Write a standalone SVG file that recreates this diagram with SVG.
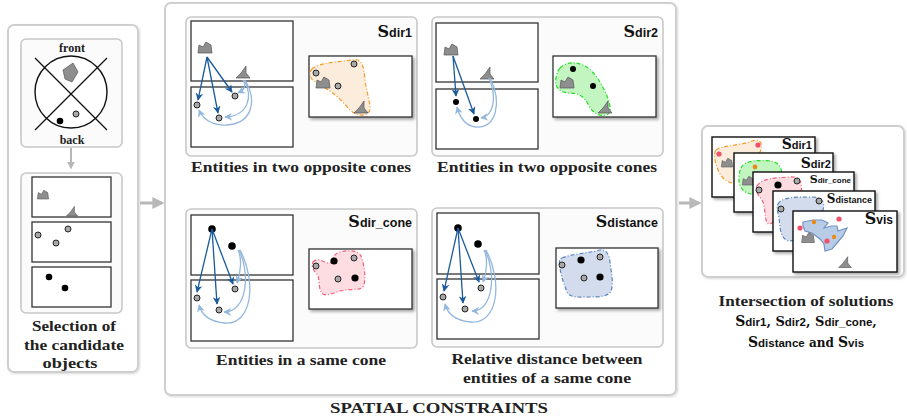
<svg xmlns="http://www.w3.org/2000/svg" width="907" height="418" viewBox="0 0 907 418">
<style>
.pnl{fill:#fff;stroke:#cfcfcf;stroke-width:2}
.sub{fill:#fbfbfb;stroke:#c8c8c8;stroke-width:1.6}
.frame{fill:#fff;stroke:#333;stroke-width:1.3}
.card{fill:#fff;stroke:#111;stroke-width:1.4}
.gdot{fill:#a8a8a8;stroke:#222;stroke-width:1}
.bdot{fill:#000}
.shp{fill:#8e8e8e;stroke:#555;stroke-width:0.7}
.lbl{font-family:"Liberation Serif",serif;font-weight:bold;font-size:14.5px;fill:#222}
.sm{font-family:"Liberation Serif",serif;font-weight:bold;font-size:12px;fill:#222}
.ser{font-family:"DejaVu Serif","Liberation Serif",serif;font-weight:bold;fill:#111}
.sns{font-family:"Liberation Sans",sans-serif;font-weight:bold;fill:#111}
.dk{stroke:#1b5b9b;stroke-width:1.3;fill:none;marker-end:url(#ad)}
.lt{stroke:#93b7de;stroke-width:1.3;fill:none;marker-end:url(#al)}
.gar{stroke:#b8b8b8;stroke-width:3;fill:none;marker-end:url(#ag)}
.org{fill:#fcecdc;stroke:#f39a2a;stroke-width:1.2;stroke-dasharray:4 2 1 2}
.grn{fill:#c2f5c0;stroke:#22dd22;stroke-width:1.2;stroke-dasharray:4 2 1 2}
.pnk{fill:#fddde2;stroke:#f0607a;stroke-width:1.2;stroke-dasharray:4 2 1 2}
.blu{fill:#d2dced;stroke:#5a84bd;stroke-width:1.2;stroke-dasharray:4 2 1 2}
.vis{fill:#b9cce6;stroke:#6f93c5;stroke-width:1.2}
.pdot{fill:#f0506a}
.odot{fill:#e88a1a}
</style>
<defs>
<marker id="ad" viewBox="0 0 10 10" refX="9" refY="5" markerWidth="6" markerHeight="6" orient="auto"><path d="M0,0 L10,5 L0,10 L3,5 Z" fill="#1b5b9b"/></marker>
<marker id="al" viewBox="0 0 10 10" refX="9" refY="5" markerWidth="6" markerHeight="6" orient="auto"><path d="M0,0 L10,5 L0,10 L3,5 Z" fill="#93b7de"/></marker>
<marker id="ag" viewBox="0 0 10 10" refX="8" refY="5" markerWidth="4" markerHeight="4" orient="auto"><path d="M0,0 L10,5 L0,10 Z" fill="#b8b8b8"/></marker>
<filter id="sh" x="-10%" y="-10%" width="130%" height="140%"><feDropShadow dx="2" dy="2" stdDeviation="1.5" flood-color="#000" flood-opacity="0.35"/></filter>
<filter id="psh" x="-5%" y="-5%" width="110%" height="110%"><feDropShadow dx="1" dy="1" stdDeviation="1.2" flood-color="#000" flood-opacity="0.15"/></filter>
<path id="crown" d="M-7,5 L-6,-3 L-2,-1 L1,-6 L6,-3 L7,5 Z"/>
<path id="boot" d="M-7,5 L-2,0 L3,-7 L3,0 L7,5 Z"/>
</defs>

<!-- Left panel -->
<g id="selection">
<rect class="pnl" x="8" y="25" width="130" height="347" rx="6" filter="url(#psh)"/>
<rect class="sub" x="21" y="39" width="101" height="108" rx="5"/>
<text class="sm" x="72" y="52" text-anchor="middle">front</text>
<circle cx="71" cy="92" r="36" fill="#fff" stroke="#111" stroke-width="1.4"/>
<line x1="35" y1="58" x2="107" y2="130" stroke="#111" stroke-width="1.2"/>
<line x1="107" y1="58" x2="35" y2="130" stroke="#111" stroke-width="1.2"/>
<polygon class="shp" points="63,70 73,63 78,72 72,82 65,79"/>
<circle class="bdot" cx="60" cy="121" r="3.3"/>
<circle class="gdot" cx="76" cy="114" r="3"/>
<text class="sm" x="72" y="144" text-anchor="middle">back</text>
<rect class="sub" x="21" y="173" width="101" height="140" rx="5"/>
<rect class="frame" x="32" y="177" width="79" height="40"/>
<use href="#crown" class="shp" transform="translate(43,195) scale(0.8)"/>
<use href="#boot" class="shp" transform="translate(72,212) scale(0.8)"/>
<rect class="frame" x="32" y="222" width="79" height="40"/>
<circle class="gdot" cx="38" cy="235" r="3"/>
<circle class="gdot" cx="56" cy="243" r="3"/>
<circle class="gdot" cx="68" cy="229" r="3"/>
<rect class="frame" x="32" y="267" width="79" height="40"/>
<circle class="bdot" cx="49" cy="277" r="3.3"/>
<circle class="bdot" cx="65" cy="288" r="3.3"/>
<text class="lbl" x="74" y="331" text-anchor="middle" textLength="84" lengthAdjust="spacingAndGlyphs">Selection of</text>
<text class="lbl" x="74" y="350" text-anchor="middle" textLength="100" lengthAdjust="spacingAndGlyphs">the candidate</text>
<text class="lbl" x="70" y="368" text-anchor="middle" textLength="55" lengthAdjust="spacingAndGlyphs">objects</text>
</g>

<!-- Middle panel -->
<g id="spatial">
<rect class="pnl" x="165" y="3" width="511" height="392" rx="6" filter="url(#psh)"/>
<text class="lbl" x="439" y="413" text-anchor="middle" textLength="218" lengthAdjust="spacingAndGlyphs">SPATIAL CONSTRAINTS</text>
</g>

<!-- Sdir1 -->
<g id="sdir1">
<rect class="sub" x="186" y="17" width="231" height="139" rx="5"/>
<text x="412" y="37" text-anchor="end"><tspan class="ser" font-size="16">S</tspan><tspan class="sns" font-size="12.5">dir1</tspan></text>
<rect class="frame" x="191" y="21" width="102" height="60"/>
<rect class="frame" x="191" y="87" width="102" height="60"/>
<use href="#crown" class="shp" transform="translate(205,48)"/>
<use href="#boot" class="shp" transform="translate(243,73)"/>
<circle class="gdot" cx="197" cy="105" r="3"/>
<circle class="gdot" cx="219" cy="118" r="3"/>
<circle class="gdot" cx="235" cy="96" r="3"/>
<rect class="frame" x="309" y="56" width="103" height="61" filter="url(#sh)"/>
<path class="org" d="M312,69 C320,62 340,62 352,60 C362,58 364,66 365,80 C367,95 372,106 369,112 C364,117 355,116 348,108 C340,98 330,90 318,84 C310,80 308,73 312,69 Z"/>
<circle class="gdot" cx="316" cy="73" r="3"/>
<use href="#crown" class="shp" transform="translate(323,83)"/>
<circle class="gdot" cx="338" cy="86" r="3"/>
<circle class="gdot" cx="354" cy="64" r="3"/>
<use href="#boot" class="shp" transform="translate(361,108)"/>
<text class="lbl" x="301" y="172" text-anchor="middle" textLength="220" lengthAdjust="spacingAndGlyphs">Entities in two opposite cones</text>
</g>

<!-- Sdir2 -->
<g id="sdir2">
<rect class="sub" x="432" y="17" width="231" height="139" rx="5"/>
<text x="658" y="37" text-anchor="end"><tspan class="ser" font-size="16">S</tspan><tspan class="sns" font-size="12.5">dir2</tspan></text>
<rect class="frame" x="436" y="23" width="102" height="59"/>
<rect class="frame" x="436" y="89" width="102" height="60"/>
<use href="#crown" class="shp" transform="translate(451,50)"/>
<use href="#boot" class="shp" transform="translate(487,74)"/>
<circle class="bdot" cx="456" cy="102" r="3"/>
<circle class="bdot" cx="476" cy="119" r="3"/>
<rect class="frame" x="553" y="56" width="103" height="61" filter="url(#sh)"/>
<path class="grn" d="M560,68 C566,62 576,61 585,66 C595,72 602,84 607,96 C611,106 612,114 606,115 C598,117 592,112 588,104 C584,96 578,93 570,93 C560,93 554,87 556,78 C557,73 558,70 560,68 Z"/>
<circle class="bdot" cx="573" cy="69" r="3"/>
<use href="#crown" class="shp" transform="translate(567,83)"/>
<circle class="bdot" cx="593" cy="86" r="3"/>
<use href="#boot" class="shp" transform="translate(605,108)"/>
<text class="lbl" x="547" y="172" text-anchor="middle" textLength="220" lengthAdjust="spacingAndGlyphs">Entities in two opposite cones</text>
</g>

<!-- Sdir_cone -->
<g id="sdircone">
<rect class="sub" x="186" y="209" width="231" height="139" rx="5"/>
<text x="412" y="227" text-anchor="end"><tspan class="ser" font-size="16">S</tspan><tspan class="sns" font-size="12.5">dir_cone</tspan></text>
<rect class="frame" x="191" y="215" width="102" height="60"/>
<rect class="frame" x="191" y="280" width="102" height="61"/>
<circle class="bdot" cx="212" cy="229" r="3.8"/>
<circle class="bdot" cx="232" cy="246" r="3.8"/>
<circle class="gdot" cx="197" cy="298" r="3"/>
<circle class="gdot" cx="219" cy="310" r="3"/>
<circle class="gdot" cx="235" cy="289" r="3"/>
<rect class="frame" x="309" y="249" width="103" height="60" filter="url(#sh)"/>
<path class="pnk" d="M313,262 C318,256 325,264 330,263 C333,262 332,254 340,252 C348,250 358,250 361,256 C364,264 366,275 364,285 C362,291 352,289 345,290 C336,291 328,297 323,294 C318,290 320,282 318,276 C316,272 310,268 313,262 Z"/>
<circle class="gdot" cx="316" cy="266" r="3"/>
<circle class="bdot" cx="334" cy="261" r="3.6"/>
<circle class="gdot" cx="354" cy="258" r="3"/>
<circle class="gdot" cx="338" cy="279" r="3"/>
<circle class="bdot" cx="355" cy="278" r="3.6"/>
<text class="lbl" x="301" y="365" text-anchor="middle" textLength="170" lengthAdjust="spacingAndGlyphs">Entities in a same cone</text>
</g>

<!-- Sdistance -->
<g id="sdistance">
<rect class="sub" x="432" y="208" width="231" height="139" rx="5"/>
<text x="658" y="227" text-anchor="end"><tspan class="ser" font-size="16">S</tspan><tspan class="sns" font-size="12.5">distance</tspan></text>
<rect class="frame" x="437" y="213" width="102" height="61"/>
<rect class="frame" x="437" y="279" width="102" height="60"/>
<circle class="bdot" cx="458" cy="228" r="3.8"/>
<circle class="bdot" cx="478" cy="244" r="3.8"/>
<circle class="gdot" cx="443" cy="297" r="3"/>
<circle class="gdot" cx="465" cy="309" r="3"/>
<circle class="gdot" cx="481" cy="288" r="3"/>
<rect class="frame" x="556" y="248" width="102" height="60" filter="url(#sh)"/>
<path class="blu" d="M562,258 C570,254 590,253 600,250 C606,249 609,254 610,262 C611,272 614,282 611,291 C608,297 598,297 588,297 C578,297 570,298 567,292 C564,284 561,276 560,268 C559,262 559,259 562,258 Z"/>
<circle class="gdot" cx="562" cy="265" r="3"/>
<circle class="bdot" cx="581" cy="260" r="3.6"/>
<circle class="gdot" cx="600" cy="257" r="3"/>
<circle class="gdot" cx="584" cy="278" r="3"/>
<circle class="bdot" cx="600" cy="277" r="3.6"/>
<text class="lbl" x="547" y="364" text-anchor="middle" textLength="191" lengthAdjust="spacingAndGlyphs">Relative distance between</text>
<text class="lbl" x="547" y="383" text-anchor="middle" textLength="168" lengthAdjust="spacingAndGlyphs">entities of a same cone</text>
</g>

<!-- Right panel -->
<g id="intersection">
<rect class="pnl" x="702" y="126" width="202" height="151" rx="6" filter="url(#psh)"/>
<rect class="card" x="712" y="137" width="103" height="60" filter="url(#sh)"/>
<path class="org" d="M716,150 C722,145 740,146 752,141 C760,138 764,144 760,152 C755,162 745,170 738,180 C732,187 722,180 718,170 C715,162 713,154 716,150 Z"/>
<circle class="pdot" cx="719" cy="154" r="2.6"/>
<circle class="pdot" cx="758" cy="145" r="2.6"/>
<use href="#crown" class="shp" transform="translate(727,163) scale(0.8)"/>
<text x="812" y="149" text-anchor="end"><tspan class="ser" font-size="14">S</tspan><tspan class="sns" font-size="11">dir1</tspan></text>
<rect class="card" x="734" y="153" width="99" height="59" filter="url(#sh)"/>
<path class="grn" d="M741,168 C745,160 758,160 770,161 C780,162 784,170 780,180 C775,190 762,194 752,194 C743,194 738,185 739,177 C739,173 740,170 741,168 Z"/>
<circle class="odot" cx="755" cy="167" r="2.4"/>
<use href="#crown" class="shp" transform="translate(748,181) scale(0.8)"/>
<text x="831" y="168" text-anchor="end"><tspan class="ser" font-size="14">S</tspan><tspan class="sns" font-size="11">dir2</tspan></text>
<rect class="card" x="753" y="172" width="101" height="60" filter="url(#sh)"/>
<path class="pnk" d="M757,186 C762,178 775,178 790,177 C800,176 803,183 801,192 C799,200 793,206 785,210 C778,214 775,222 770,224 C764,225 766,210 763,202 C760,196 754,192 757,186 Z"/>
<circle class="gdot" cx="759" cy="190" r="3"/>
<circle class="bdot" cx="778" cy="185" r="3.6"/>
<circle class="gdot" cx="797" cy="181" r="3"/>
<text x="851" y="183" text-anchor="end"><tspan class="ser" font-size="11">S</tspan><tspan class="sns" font-size="8">dir_cone</tspan></text>
<rect class="card" x="773" y="191" width="102" height="60" filter="url(#sh)"/>
<path class="blu" d="M778,204 C782,197 795,197 812,197 C822,197 825,202 823,210 C820,220 812,225 805,232 C800,238 792,243 786,240 C780,236 780,226 779,218 C778,212 776,208 778,204 Z"/>
<circle class="gdot" cx="781" cy="209" r="3"/>
<circle class="gdot" cx="819" cy="201" r="3"/>
<text x="872" y="203" text-anchor="end"><tspan class="ser" font-size="12">S</tspan><tspan class="sns" font-size="9">distance</tspan></text>
<rect class="card" x="793" y="211" width="104" height="61" filter="url(#sh)"/>
<path class="vis" d="M803,222 L813,220 L822,220 L828,223 L824,228 L831,226 L837,226 L838,231 L847,228 L843,236 L837,243 L832,249 L825,251 L824,244 L821,240 L816,236 L812,233 L805,231 L803,226 Z"/>
<circle class="pdot" cx="800" cy="228" r="2.6"/>
<circle class="pdot" cx="839" cy="219" r="2.6"/>
<circle class="pdot" cx="827" cy="241" r="2.6"/>
<circle class="odot" cx="814" cy="222" r="2.2"/>
<circle class="odot" cx="834" cy="237" r="2.2"/>
<use href="#crown" class="shp" transform="translate(808,238) scale(0.9)"/>
<use href="#boot" class="shp" transform="translate(845,263) scale(0.9)"/>
<text x="893" y="224" text-anchor="end"><tspan class="ser" font-size="16">S</tspan><tspan class="sns" font-size="12">vis</tspan></text>
<text class="lbl" x="806" y="306" text-anchor="middle" textLength="175" lengthAdjust="spacingAndGlyphs">Intersection of solutions</text>
<text x="806" y="326" text-anchor="middle"><tspan class="ser" font-size="14">S</tspan><tspan class="sns" font-size="11.5">dir1</tspan><tspan class="ser" font-size="13">, S</tspan><tspan class="sns" font-size="11.5">dir2</tspan><tspan class="ser" font-size="13">, S</tspan><tspan class="sns" font-size="11.5">dir_cone</tspan><tspan class="ser" font-size="13">,</tspan></text>
<text x="806" y="347" text-anchor="middle"><tspan class="ser" font-size="14">S</tspan><tspan class="sns" font-size="11.5">distance</tspan><tspan class="ser" font-size="12"> and </tspan><tspan class="ser" font-size="14">S</tspan><tspan class="sns" font-size="11.5">vis</tspan></text>
</g>

<!-- Connectors -->
<g id="connectors">
<line class="gar" x1="71" y1="148" x2="71" y2="168" style="stroke-width:2"/>
<line class="gar" x1="140" y1="203" x2="162" y2="203"/>
<line class="gar" x1="679" y1="203" x2="699" y2="203"/>
<path class="dk" d="M207,57 L198,100"/>
<path class="dk" d="M207,57 L218,113"/>
<path class="dk" d="M207,57 L232,92"/>
<path class="lt" d="M243,80 C247,86 244,90 238,93"/>
<path class="lt" d="M244,80 C253,96 249,116 225,117"/>
<path class="lt" d="M245,80 C258,102 252,126 222,125 C210,124 203,119 199,110"/>
<path class="dk" d="M453,56 L456,96"/>
<path class="dk" d="M453,56 L474,114"/>
<path class="lt" d="M489,78 C497,96 494,116 481,118"/>
<path class="lt" d="M490,78 C502,102 497,128 476,127 C465,126 460,118 457,107"/>
<path class="dk" d="M212,229 L197,292"/>
<path class="dk" d="M212,229 L217,304"/>
<path class="dk" d="M212,229 L233,284"/>
<path class="lt" d="M238,250 C242,258 241,272 237,283"/>
<path class="lt" d="M239,250 C250,272 248,312 224,312"/>
<path class="lt" d="M240,250 C257,282 252,325 225,323 C212,322 202,316 199,305"/>
<path class="dk" d="M458,228 L444,291"/>
<path class="dk" d="M458,228 L463,303"/>
<path class="dk" d="M458,228 L479,282"/>
<path class="lt" d="M484,250 C488,258 487,272 483,282"/>
<path class="lt" d="M485,250 C496,272 494,311 472,311"/>
<path class="lt" d="M486,250 C503,282 498,324 471,322 C458,321 448,315 445,304"/>
</g>
</svg>
